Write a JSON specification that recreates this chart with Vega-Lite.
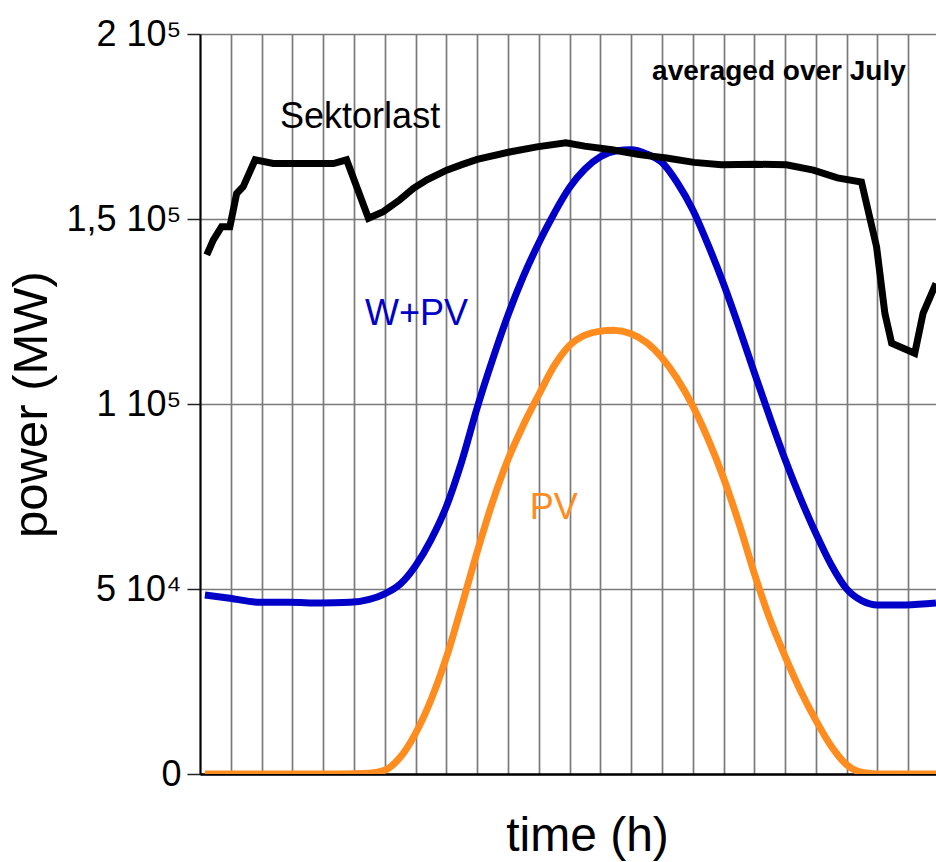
{
  "$schema": "https://vega.github.io/schema/vega-lite/v6.json",
  "width": 736,
  "height": 740,
  "autosize": {"type": "none"},
  "padding": {"left": 200, "top": 34, "right": 0, "bottom": 88},
  "background": "white",
  "config": {"view": {"stroke": null}, "font": "Liberation Sans"},
  "datasets": {
    "curves": [
      {"series": "Sektorlast", "t": 0.22, "power": 140300},
      {"series": "Sektorlast", "t": 0.43, "power": 144300},
      {"series": "Sektorlast", "t": 0.7, "power": 147900},
      {"series": "Sektorlast", "t": 0.97, "power": 147900},
      {"series": "Sektorlast", "t": 1.19, "power": 156900},
      {"series": "Sektorlast", "t": 1.4, "power": 158700},
      {"series": "Sektorlast", "t": 1.79, "power": 166000},
      {"series": "Sektorlast", "t": 2.38, "power": 165000},
      {"series": "Sektorlast", "t": 4.33, "power": 165000},
      {"series": "Sektorlast", "t": 4.76, "power": 166000},
      {"series": "Sektorlast", "t": 5.47, "power": 150200},
      {"series": "Sektorlast", "t": 5.95, "power": 152000},
      {"series": "Sektorlast", "t": 6.49, "power": 155200},
      {"series": "Sektorlast", "t": 6.93, "power": 158300},
      {"series": "Sektorlast", "t": 7.37, "power": 160600},
      {"series": "Sektorlast", "t": 8.01, "power": 163200},
      {"series": "Sektorlast", "t": 8.5, "power": 164700},
      {"series": "Sektorlast", "t": 9.0, "power": 166100},
      {"series": "Sektorlast", "t": 10.05, "power": 168100},
      {"series": "Sektorlast", "t": 10.94, "power": 169500},
      {"series": "Sektorlast", "t": 11.88, "power": 170600},
      {"series": "Sektorlast", "t": 12.49, "power": 169700},
      {"series": "Sektorlast", "t": 13.38, "power": 168700},
      {"series": "Sektorlast", "t": 14.26, "power": 167400},
      {"series": "Sektorlast", "t": 15.15, "power": 166500},
      {"series": "Sektorlast", "t": 16.04, "power": 165300},
      {"series": "Sektorlast", "t": 16.93, "power": 164650},
      {"series": "Sektorlast", "t": 18.04, "power": 164800},
      {"series": "Sektorlast", "t": 19.04, "power": 164650},
      {"series": "Sektorlast", "t": 19.92, "power": 163200},
      {"series": "Sektorlast", "t": 20.7, "power": 161100},
      {"series": "Sektorlast", "t": 21.48, "power": 160000},
      {"series": "Sektorlast", "t": 21.97, "power": 142500},
      {"series": "Sektorlast", "t": 22.24, "power": 124500},
      {"series": "Sektorlast", "t": 22.46, "power": 116400},
      {"series": "Sektorlast", "t": 23.21, "power": 113700},
      {"series": "Sektorlast", "t": 23.48, "power": 124500},
      {"series": "Sektorlast", "t": 23.9, "power": 132600},

      {"series": "W+PV", "t": 0.16, "power": 48400},
      {"series": "W+PV", "t": 0.97, "power": 47500},
      {"series": "W+PV", "t": 1.95, "power": 46400},
      {"series": "W+PV", "t": 2.92, "power": 46400},
      {"series": "W+PV", "t": 3.9, "power": 46200},
      {"series": "W+PV", "t": 4.87, "power": 46400},
      {"series": "W+PV", "t": 5.5, "power": 47200},
      {"series": "W+PV", "t": 6.0, "power": 48700},
      {"series": "W+PV", "t": 6.5, "power": 51300},
      {"series": "W+PV", "t": 7.0, "power": 56300},
      {"series": "W+PV", "t": 7.5, "power": 63300},
      {"series": "W+PV", "t": 8.0, "power": 72300},
      {"series": "W+PV", "t": 8.5, "power": 84500},
      {"series": "W+PV", "t": 9.0, "power": 99000},
      {"series": "W+PV", "t": 9.5, "power": 112000},
      {"series": "W+PV", "t": 10.0, "power": 124000},
      {"series": "W+PV", "t": 10.5, "power": 134500},
      {"series": "W+PV", "t": 11.0, "power": 143500},
      {"series": "W+PV", "t": 11.5, "power": 151500},
      {"series": "W+PV", "t": 12.0, "power": 158500},
      {"series": "W+PV", "t": 12.5, "power": 163500},
      {"series": "W+PV", "t": 13.0, "power": 166800},
      {"series": "W+PV", "t": 13.5, "power": 168400},
      {"series": "W+PV", "t": 14.0, "power": 168700},
      {"series": "W+PV", "t": 14.5, "power": 167600},
      {"series": "W+PV", "t": 15.0, "power": 165300},
      {"series": "W+PV", "t": 15.5, "power": 159800},
      {"series": "W+PV", "t": 16.0, "power": 152500},
      {"series": "W+PV", "t": 16.5, "power": 143000},
      {"series": "W+PV", "t": 17.0, "power": 132500},
      {"series": "W+PV", "t": 17.5, "power": 120800},
      {"series": "W+PV", "t": 18.0, "power": 108500},
      {"series": "W+PV", "t": 18.5, "power": 96500},
      {"series": "W+PV", "t": 19.0, "power": 85000},
      {"series": "W+PV", "t": 19.5, "power": 74500},
      {"series": "W+PV", "t": 20.0, "power": 65000},
      {"series": "W+PV", "t": 20.5, "power": 56500},
      {"series": "W+PV", "t": 21.0, "power": 50000},
      {"series": "W+PV", "t": 21.5, "power": 46800},
      {"series": "W+PV", "t": 22.0, "power": 45700},
      {"series": "W+PV", "t": 22.92, "power": 45700},
      {"series": "W+PV", "t": 23.9, "power": 46200},

      {"series": "PV", "t": 0.16, "power": 0},
      {"series": "PV", "t": 4.55, "power": 0},
      {"series": "PV", "t": 5.5, "power": 200},
      {"series": "PV", "t": 6.0, "power": 1000},
      {"series": "PV", "t": 6.5, "power": 4500},
      {"series": "PV", "t": 7.0, "power": 11000},
      {"series": "PV", "t": 7.5, "power": 20000},
      {"series": "PV", "t": 8.0, "power": 31500},
      {"series": "PV", "t": 8.5, "power": 45500},
      {"series": "PV", "t": 9.0, "power": 60000},
      {"series": "PV", "t": 9.5, "power": 73500},
      {"series": "PV", "t": 10.0, "power": 85000},
      {"series": "PV", "t": 10.5, "power": 94300},
      {"series": "PV", "t": 11.0, "power": 102500},
      {"series": "PV", "t": 11.5, "power": 110300},
      {"series": "PV", "t": 12.0, "power": 115800},
      {"series": "PV", "t": 12.5, "power": 118600},
      {"series": "PV", "t": 13.0, "power": 119700},
      {"series": "PV", "t": 13.42, "power": 119900},
      {"series": "PV", "t": 14.0, "power": 119000},
      {"series": "PV", "t": 14.5, "power": 116600},
      {"series": "PV", "t": 15.0, "power": 112500},
      {"series": "PV", "t": 15.5, "power": 106800},
      {"series": "PV", "t": 16.0, "power": 99500},
      {"series": "PV", "t": 16.5, "power": 90500},
      {"series": "PV", "t": 17.0, "power": 80000},
      {"series": "PV", "t": 17.5, "power": 67800},
      {"series": "PV", "t": 18.0, "power": 54200},
      {"series": "PV", "t": 18.5, "power": 42000},
      {"series": "PV", "t": 19.0, "power": 31800},
      {"series": "PV", "t": 19.5, "power": 22500},
      {"series": "PV", "t": 20.0, "power": 14500},
      {"series": "PV", "t": 20.5, "power": 7500},
      {"series": "PV", "t": 21.0, "power": 2500},
      {"series": "PV", "t": 21.5, "power": 400},
      {"series": "PV", "t": 22.0, "power": 0},
      {"series": "PV", "t": 23.9, "power": 0}
    ],
    "labels": [
      {"series": "Sektorlast", "t": 2.6, "power": 174600, "label": "Sektorlast"},
      {"series": "W+PV", "t": 5.36, "power": 121350, "label": "W+PV"},
      {"series": "PV", "t": 10.71, "power": 68900, "label": "PV"}
    ],
    "note": [
      {"t": 14.68, "power": 187570, "label": "averaged over July"}
    ]
  },
  "encoding": {
    "x": {
      "field": "t",
      "type": "quantitative",
      "scale": {"domain": [0, 23.9], "nice": false, "zero": false},
      "axis": {
        "title": "time (h)",
        "values": [0,1,2,3,4,5,6,7,8,9,10,11,12,13,14,15,16,17,18,19,20,21,22,23],
        "labels": false,
        "ticks": false,
        "grid": true,
        "gridColor": "#7a7a7a",
        "gridWidth": 1.7,
        "domainColor": "#000000",
        "domainWidth": 2.5,
        "titleFont": "Liberation Sans",
        "titleFontSize": 48,
        "titleFontWeight": "normal",
        "titleColor": "#000000",
        "titlePadding": 38,
        "titleX": 387
      }
    },
    "y": {
      "field": "power",
      "type": "quantitative",
      "scale": {"domain": [0, 200000], "nice": false},
      "axis": {
        "title": "power (MW)",
        "values": [0, 50000, 100000, 150000, 200000],
        "labelExpr": "datum.value == 0 ? '0' : datum.value == 50000 ? '5 10⁴' : datum.value == 100000 ? '1 10⁵' : datum.value == 150000 ? '1,5 10⁵' : '2 10⁵'",
        "labelFont": "Liberation Sans",
        "labelFontSize": 36,
        "labelColor": "#000000",
        "labelPadding": 6,
        "tickSize": 13,
        "tickColor": "#222222",
        "tickWidth": 1.5,
        "grid": true,
        "gridColor": "#7a7a7a",
        "gridWidth": 1.7,
        "domainColor": "#000000",
        "domainWidth": 2,
        "titleFont": "Liberation Sans",
        "titleFontSize": 49,
        "titleFontWeight": "normal",
        "titleColor": "#000000",
        "titlePadding": 9
      }
    }
  },
  "layer": [
    {
      "data": {"name": "curves"},
      "transform": [{"filter": "datum.series !== 'Sektorlast'"}],
      "mark": {"type": "line", "strokeWidth": 7, "interpolate": "monotone", "clip": true},
      "encoding": {
        "color": {"field": "series", "type": "nominal", "scale": {"domain": ["Sektorlast", "W+PV", "PV"], "range": ["#000000", "#0000c8", "#ff8c1e"]}, "legend": null},
        "order": {"field": "t", "type": "quantitative"}
      }
    },
    {
      "data": {"name": "curves"},
      "transform": [{"filter": "datum.series === 'Sektorlast'"}],
      "mark": {"type": "line", "strokeWidth": 7, "interpolate": "linear", "clip": true, "strokeJoin": "miter"},
      "encoding": {
        "color": {"field": "series", "type": "nominal", "scale": {"domain": ["Sektorlast", "W+PV", "PV"], "range": ["#000000", "#0000c8", "#ff8c1e"]}, "legend": null},
        "order": {"field": "t", "type": "quantitative"}
      }
    },
    {
      "data": {"name": "labels"},
      "mark": {"type": "text", "align": "left", "baseline": "alphabetic", "fontSize": 36, "font": "Liberation Sans"},
      "encoding": {
        "text": {"field": "label"},
        "color": {"field": "series", "type": "nominal", "scale": {"domain": ["Sektorlast", "W+PV", "PV"], "range": ["#000000", "#0000c8", "#ff8c1e"]}, "legend": null}
      }
    },
    {
      "data": {"name": "note"},
      "mark": {"type": "text", "align": "left", "baseline": "alphabetic", "fontSize": 28, "fontWeight": "bold", "font": "Liberation Sans", "color": "#000000"},
      "encoding": {
        "text": {"field": "label"}
      }
    }
  ]
}
